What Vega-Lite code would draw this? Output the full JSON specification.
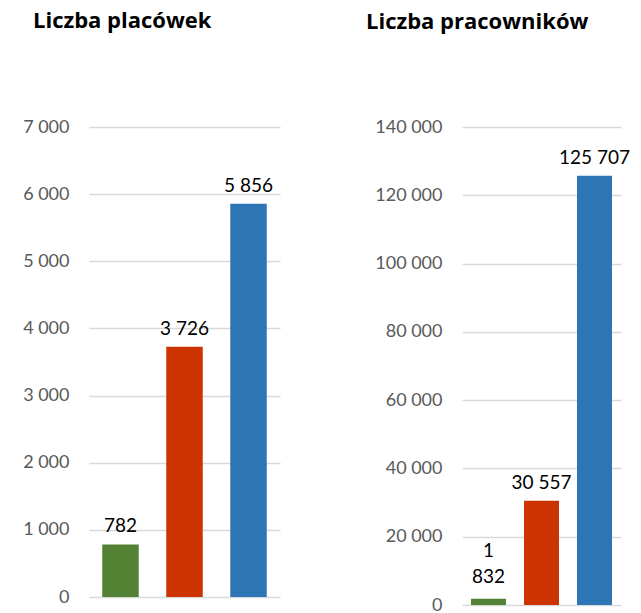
{
  "$schema": "https://vega.github.io/schema/vega-lite/v6.json",
  "padding": {"left": 22, "top": 10, "right": 5, "bottom": 2},
  "background": "white",
  "config": {
    "locale": {"number": {"decimal": ",", "thousands": " ", "grouping": [3], "currency": ["", " zł"]}},
    "font": "Lato",
    "view": {"stroke": null},
    "axis": {"domain": false, "ticks": false, "grid": true, "gridColor": "#D9D9D9", "gridWidth": 1.5, "labelColor": "#595959", "labelFontSize": 18, "labelFont": "Lato", "labelPadding": 20, "title": null, "format": ",d"},
    "title": {"font": "Open Sans", "fontSize": 22, "fontWeight": "bold", "color": "#000000", "anchor": "start", "frame": "group"}
  },
  "datasets": {
    "placowki": [
      {"kategoria": "Grupa 1", "wartosc": 782, "etykieta": "782"},
      {"kategoria": "Grupa 2", "wartosc": 3726, "etykieta": "3 726"},
      {"kategoria": "Grupa 3", "wartosc": 5856, "etykieta": "5 856"}
    ],
    "pracownicy": [
      {"kategoria": "Grupa 1", "wartosc": 1832, "etykieta": "1\n832"},
      {"kategoria": "Grupa 2", "wartosc": 30557, "etykieta": "30 557"},
      {"kategoria": "Grupa 3", "wartosc": 125707, "etykieta": "125 707"}
    ]
  },
  "hconcat": [
    {
      "width": 191,
      "height": 470,
      "title": {"text": "Liczba placówek", "dx": -56, "offset": 85},
      "data": {"name": "placowki"},
      "encoding": {
        "x": {"field": "kategoria", "type": "nominal", "sort": null, "axis": null, "scale": {"paddingInner": 0.43, "paddingOuter": 0.207}},
        "y": {"field": "wartosc", "type": "quantitative", "scale": {"domain": [0, 7000], "nice": false}, "axis": {"values": [0, 1000, 2000, 3000, 4000, 5000, 6000, 7000]}}
      },
      "layer": [
        {
          "mark": {"type": "bar"},
          "encoding": {
            "color": {"field": "kategoria", "type": "nominal", "sort": null, "scale": {"domain": ["Grupa 1", "Grupa 2", "Grupa 3"], "range": ["#548235", "#CC3300", "#2E75B6"]}, "legend": null}
          }
        },
        {
          "mark": {"type": "text", "baseline": "bottom", "dy": -8, "fontSize": 19, "color": "#000000", "lineBreak": "\n", "lineHeight": 26},
          "encoding": {"text": {"field": "etykieta"}}
        }
      ]
    },
    {
      "width": 159,
      "height": 478,
      "title": {"text": "Liczba pracowników", "dx": -96, "offset": 84},
      "data": {"name": "pracownicy"},
      "encoding": {
        "x": {"field": "kategoria", "type": "nominal", "sort": null, "axis": null, "scale": {"paddingInner": 0.34, "paddingOuter": 0.17}},
        "y": {"field": "wartosc", "type": "quantitative", "scale": {"domain": [0, 140000], "nice": false}, "axis": {"values": [0, 20000, 40000, 60000, 80000, 100000, 120000, 140000]}}
      },
      "layer": [
        {
          "mark": {"type": "bar"},
          "encoding": {
            "color": {"field": "kategoria", "type": "nominal", "sort": null, "scale": {"domain": ["Grupa 1", "Grupa 2", "Grupa 3"], "range": ["#548235", "#CC3300", "#2E75B6"]}, "legend": null}
          }
        },
        {
          "mark": {"type": "text", "baseline": "bottom", "dy": {"expr": "indexof(datum.etykieta, '\\n') >= 0 ? -38 : -8"}, "fontSize": 19, "color": "#000000", "lineBreak": "\n", "lineHeight": 26},
          "encoding": {"text": {"field": "etykieta"}}
        }
      ]
    }
  ],
  "spacing": 86,
  "resolve": {"scale": {"color": "independent", "y": "independent"}}
}
